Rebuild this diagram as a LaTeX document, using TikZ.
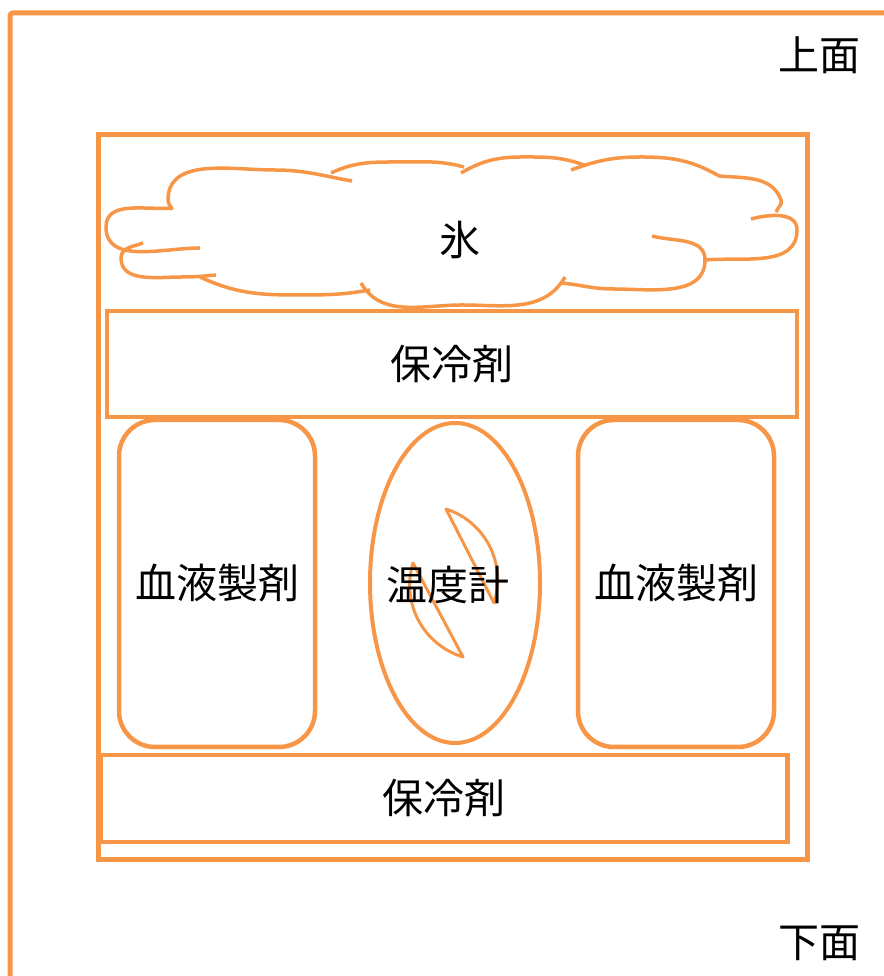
\documentclass[tikz,border=0pt]{standalone}
\usepackage{fontspec}
\setmainfont{Noto Sans CJK JP}
\usetikzlibrary{shapes.geometric}

\definecolor{boxorange}{RGB}{247,150,70}

\begin{document}
\begin{tikzpicture}[x=1pt, y=1pt,
  jp/.style = {font=\fontsize{41}{44}\selectfont},
  box/.style = {draw=boxorange, line width=4.5pt, rectangle, inner sep=0pt, jp},
  pack/.style = {box, rounded corners=36pt, minimum width=196pt, minimum height=327pt},
  coolant/.style = {box, minimum width=690pt},
  puff/.style = {draw=boxorange, line width=3.5pt},
  dial/.style = {draw=boxorange, line width=3pt, line join=round}
]
\useasboundingbox (0,0) rectangle (883,976);

% outer case, only the top and left walls show
\draw[boxorange, line width=5pt, rounded corners=3pt] (10,-5)--(10,963)--(890,963);
\node[jp, anchor=east] (top) at (864,921) {上面};
\node[jp, anchor=east] (bottom) at (864,33) {下面};

% inner box
\node[box, line width=5pt, minimum width=709pt, minimum height=725pt] (inner) at (452.5,478.5) {};

% ice cloud
\draw[puff] (172,768) to[out=185,in=90] (106,749) to[out=-90,in=180] (200,728);
\draw[puff] (143,733) to[out=200,in=90] (121,718) to[out=-90,in=180] (182,699) to[out=0,in=185] (216,701);
\draw[puff] (200,699) to[out=-25,in=180] (297,681) to[out=0,in=190] (370,686);
\draw[puff] (361,693) to[out=-60,in=180] (462,671) to[out=0,in=-120] (565,699);
\draw[puff] (652,740) to[out=-15,in=90] (705,716) to[out=-90,in=0] (613,687) to[out=180,in=-5] (561,693);
\draw[puff] (705,716) to[out=5,in=-90] (797,746) to[out=90,in=15] (751,757);
\draw[puff] (776,764) to[out=70,in=-70] (781,776) to[out=110,in=-5] (719,800);
\draw[puff] (719,800) to[out=150,in=0] (641,819) to[out=180,in=20] (571,806);
\draw[puff] (584,811) to[out=160,in=0] (522,819) to[out=180,in=30] (461,803);
\draw[puff] (464,809) to[out=165,in=0] (398,814) to[out=180,in=25] (331,803);
\draw[puff] (352,795) to[out=170,in=0] (274,806) to[out=180,in=90] (168,776) to[out=-90,in=100] (172,766);
\node[jp] (ice) at (460,736) {氷};

% coolant packs
\node[coolant, minimum height=106pt] (coolTop) at (452,612) {保冷剤};
\node[coolant, minimum width=687pt, minimum height=87pt] (coolBottom) at (444,177.5) {保冷剤};

% blood bags
\node[pack] (bloodL) at (217,392.5) {血液製剤};
\node[pack] (bloodR) at (676,392.5) {血液製剤};

% thermometer dial
\draw[dial] (446,467) to[bend left=45] (494,373) -- cycle;
\draw[dial] (413,413) to[bend right=45] (463,319) -- cycle;
\node[draw=boxorange, line width=4pt, ellipse, minimum width=170pt, minimum height=320pt,
  inner sep=0pt, jp] (thermo) at (455,393) {};
\node[jp] (thermoText) at (448,391) {温度計};
\end{tikzpicture}
\end{document}
